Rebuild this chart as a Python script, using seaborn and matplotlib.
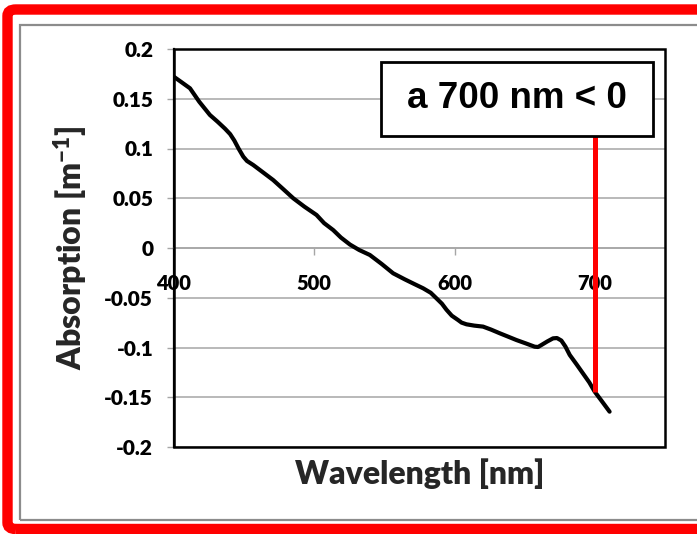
import matplotlib
matplotlib.use("Agg")
import matplotlib.pyplot as plt
from matplotlib.patches import Rectangle, FancyBboxPatch
import seaborn as sns
import pandas as pd

# ---- data ----
wavelength = [400, 405, 411.4, 418, 425.6, 431, 436.3, 440, 443, 446, 449.4, 452, 456.5, 463, 470.7,
              478, 485, 493, 501.6, 507, 513.5, 519, 525.4, 532, 539.6, 548, 556.2,
              564.5, 571, 577.6, 583, 587.1, 591, 594.2, 598, 602.5, 605, 608.5, 614,
              620.3, 626, 632.2, 638, 644.1, 651, 657.1, 659.5, 661.9, 666, 670.2,
              673, 676.1, 679, 682.1, 687, 691.5, 696, 699.9, 705, 710.5]
absorption = [0.172, 0.167, 0.1605, 0.147, 0.1337, 0.127, 0.120, 0.1145, 0.108, 0.1, 0.0918,
              0.0875, 0.0834, 0.0765, 0.0683, 0.059, 0.050, 0.0415, 0.0332, 0.025, 0.018,
              0.0105, 0.0035, -0.002, -0.007, -0.016, -0.0254, -0.0315, -0.036, -0.0405,
              -0.045, -0.0506, -0.056, -0.062, -0.068, -0.0724, -0.075, -0.0767, -0.078,
              -0.079, -0.082, -0.0857, -0.089, -0.0925, -0.096, -0.0992, -0.0995, -0.0975,
              -0.094, -0.0908, -0.0905, -0.093, -0.099, -0.1075, -0.117, -0.126, -0.135,
              -0.1444, -0.154, -0.1645]
x_ticks = [400, 500, 600, 700]
y_ticks = [0.2, 0.15, 0.1, 0.05, 0, -0.05, -0.1, -0.15, -0.2]
y_tick_labels = ["0.2", "0.15", "0.1", "0.05", "0", "-0.05", "-0.1", "-0.15", "-0.2"]
marker_wavelength = 700
marker_value = -0.1447
annotation_text = "a 700 nm < 0"
x_label = "Wavelength [nm]"
y_label = r"Absorption [m$^{\mathbf{-1}}$]"

df = pd.DataFrame({"wavelength": wavelength, "absorption": absorption})

sns.set_theme(style="white")
plt.rcParams["font.family"] = ["Lato", "DejaVu Sans"]
plt.rcParams["font.weight"] = "heavy"
plt.rcParams["mathtext.fontset"] = "custom"
plt.rcParams["mathtext.rm"] = "Lato:heavy"
plt.rcParams["mathtext.bf"] = "Lato:heavy"
plt.rcParams["mathtext.it"] = "Lato:heavy"

fig = plt.figure(figsize=(6.97, 5.34), dpi=100)
fig.patch.set_facecolor("white")

# outer red frame and grey inner border (figure pixels)
W, H = 697, 534
fig.patches.append(FancyBboxPatch((7.5 / W, 1 - 529 / H), (720 - 7.5) / W, (529 - 9.5) / H,
                                  boxstyle="round,pad=0,rounding_size=0.012",
                                  transform=fig.transFigure, fill=False,
                                  edgecolor="#ff0000", linewidth=7.5, zorder=0))
fig.patches.append(Rectangle((20 / W, 1 - 520 / H), (710 - 20) / W, (520 - 24.5) / H,
                             transform=fig.transFigure, fill=False,
                             edgecolor="#8c8c8c", linewidth=1.6, zorder=0))

ax = fig.add_axes([174 / W, 1 - 447 / H, (665 - 174) / W, (447 - 49) / H])
ax.set_xlim(400, 750)
ax.set_ylim(-0.2, 0.2)

ax.set_yticks(y_ticks)
ax.set_yticklabels(y_tick_labels)
ax.set_xticks(x_ticks)
ax.set_xticklabels([str(t) for t in x_ticks])
ax.yaxis.grid(True, color="#a6a6a6", linewidth=1.1)
ax.xaxis.grid(False)
ax.set_axisbelow(True)

for s in ["top", "right"]:
    ax.spines[s].set_visible(False)
ax.spines["left"].set_color("black")
ax.spines["left"].set_linewidth(1.6)
ax.spines["bottom"].set_position(("data", 0))
ax.spines["bottom"].set_color("#a6a6a6")
ax.spines["bottom"].set_linewidth(1.1)
ax.add_patch(Rectangle((0, 0), 1, 1, transform=ax.transAxes, fill=False,
                       edgecolor="black", linewidth=1.8, clip_on=False, zorder=5))

ax.tick_params(axis="y", which="both", left=True, length=5, width=1, color="#a6a6a6",
               pad=10, labelsize=15, labelcolor="black")
ax.tick_params(axis="x", which="both", bottom=True, length=5, width=1, color="#a6a6a6",
               pad=14, labelsize=14.5, labelcolor="black")
for lab in ax.get_xticklabels() + ax.get_yticklabels():
    lab.set_fontweight("heavy")

sns.lineplot(data=df, x="wavelength", y="absorption", ax=ax, color="black",
             linewidth=3.0, sort=False, zorder=4)
for ln in ax.lines:
    ln.set_solid_joinstyle("round")
    ln.set_solid_capstyle("round")

ax.set_xlabel(x_label, fontsize=23, fontweight="heavy", labelpad=0)
ax.set_ylabel(y_label, fontsize=23, fontweight="heavy", labelpad=10)
ax.xaxis.set_label_coords(0.5, -0.028)

# annotation box
box_x0, box_x1 = 547.4, 741.1
box_y0, box_y1 = 0.1126, 0.1869
ax.add_patch(Rectangle((box_x0, box_y0), box_x1 - box_x0, box_y1 - box_y0,
                       facecolor="white", edgecolor="black", linewidth=2, zorder=6))
ax.text((box_x0 + box_x1) / 2, (box_y0 + box_y1) / 2, annotation_text,
        ha="center", va="center", fontsize=26.5, fontweight="bold",
        family=["Liberation Sans", "DejaVu Sans"], color="black", zorder=7)
ax.plot([marker_wavelength, marker_wavelength], [marker_value, box_y0],
        color="#ff0000", linewidth=3.6, zorder=5, solid_capstyle="butt")

fig.savefig("out.png", dpi=100)
